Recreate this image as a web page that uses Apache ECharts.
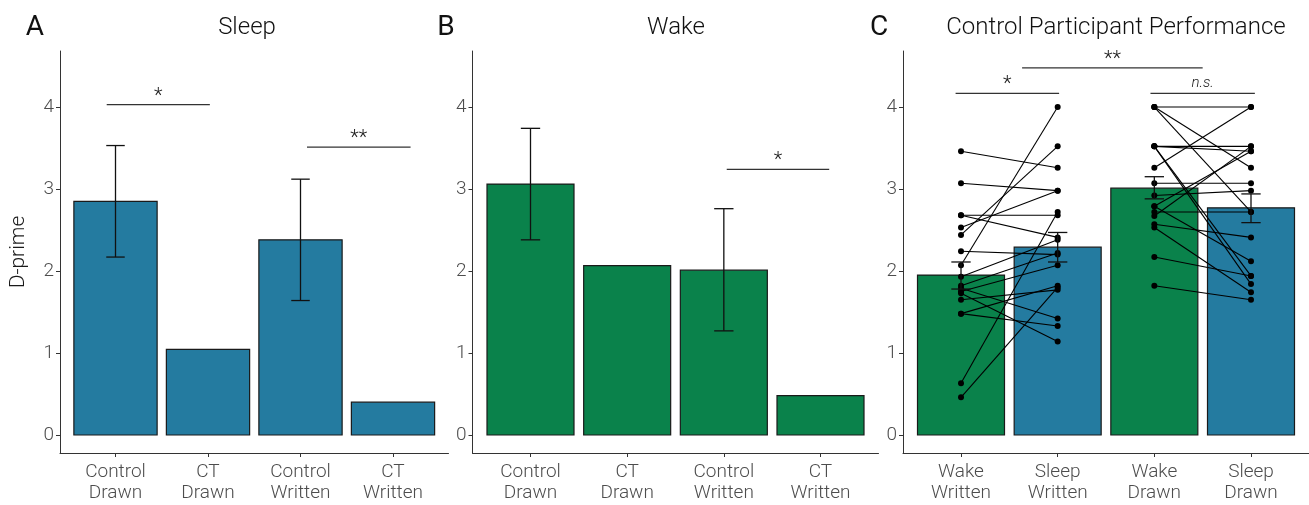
<!DOCTYPE html>
<html lang="en">
<head>
    <meta charset="utf-8">
    <title>D-prime</title>
    <script src="https://cdn.jsdelivr.net/npm/echarts@6/dist/echarts.min.js"></script>
    <style>
        html, body { margin: 0; padding: 0; background: #fff; }
        #main { width: 1309px; height: 505px; }
    </style>
</head>
<body>
<div id="main"></div>
<script type="application/javascript">
    // categories
    var catsAB = ['Control\nDrawn', 'CT\nDrawn', 'Control\nWritten', 'CT\nWritten'];
    var catsC = ['Wake\nWritten', 'Sleep\nWritten', 'Wake\nDrawn', 'Sleep\nDrawn'];

    // A: sleep group
    var sleepMean = [2.85, 1.045, 2.38, 0.40];
    var sleepLow = [2.17, null, 1.64, null];
    var sleepHigh = [3.53, null, 3.12, null];

    // B: wake group
    var wakeMean = [3.06, 2.065, 2.01, 0.48];
    var wakeLow = [2.38, null, 1.27, null];
    var wakeHigh = [3.74, null, 2.76, null];

    // C: control participants
    var ctrlMean = [1.95, 2.29, 3.01, 2.77];
    var ctrlLow = [1.78, 2.11, 2.88, 2.59];
    var ctrlHigh = [2.11, 2.47, 3.15, 2.94];

    // paired scores per participant
    var wakeWritten = [3.46, 3.07, 2.68, 2.68, 2.53, 2.44, 2.24, 2.07, 1.93, 1.82, 1.79, 1.75, 1.73, 1.65, 1.48, 1.48, 0.63, 0.46];
    var sleepWritten = [3.26, 2.98, 2.68, 2.41, 2.98, 3.52, 2.20, 4.00, 2.38, 2.22, 1.42, 2.07, 1.14, 1.77, 1.82, 1.33, 2.72, 1.80];
    var wakeDrawn = [4.00, 4.00, 4.00, 3.52, 3.52, 3.52, 3.52, 3.26, 3.07, 2.92, 2.79, 2.79, 2.72, 2.67, 2.57, 2.53, 2.17, 1.82];
    var sleepDrawn = [4.00, 3.26, 2.72, 3.52, 3.46, 1.94, 1.84, 4.00, 3.07, 2.98, 3.46, 2.12, 2.72, 3.52, 2.41, 1.74, 1.94, 1.65];

    // significance brackets: [from, to, height], labels
    var sigA = [[0.905, 2.02, 4.03], [3.07, 4.19, 3.51]];
    var sigALabels = ['*', '**'];
    var sigB = [[3.03, 4.09, 3.24]];
    var sigBLabels = ['*'];
    var sigC = [[0.944, 2.015, 4.167], [1.632, 3.50, 4.476], [2.96, 4.04, 4.167]];
    var sigCLabels = ['*', '**', 'n.s.'];

    var yTicks = [0, 1, 2, 3, 4];
    var BLUE = '#247ba0';
    var GREEN = '#0a824b';
    var FONT = 'Roboto';

    var chart = echarts.init(document.getElementById('main'));

    function makeX(idx, names) {
        return {
            type: 'value', gridIndex: idx, min: 0.4, max: 4.6,
            splitLine: {show: false},
            axisLine: {onZero: false, lineStyle: {color: '#333', width: 1}},
            axisTick: {customValues: [1, 2, 3, 4], length: 4, lineStyle: {color: '#333'}},
            axisLabel: {
                customValues: [1, 2, 3, 4], margin: 9,
                color: '#4d4d4d', fontSize: 19, lineHeight: 21, fontFamily: FONT, fontWeight: 300,
                formatter: function (v) { return names[Math.round(v) - 1]; }
            }
        };
    }

    function makeY(idx, name) {
        return {
            type: 'value', gridIndex: idx, min: -0.2195, max: 4.683,
            name: name || '', nameLocation: 'middle', nameGap: 31,
            nameTextStyle: {color: '#1a1a1a', fontSize: 21, fontFamily: FONT, fontWeight: 300},
            splitLine: {show: false},
            axisLine: {show: true, onZero: false, lineStyle: {color: '#333', width: 1}},
            axisTick: {show: true, customValues: yTicks, length: 4, lineStyle: {color: '#333'}},
            axisLabel: {
                customValues: yTicks, margin: 6,
                color: '#4d4d4d', fontSize: 19, fontFamily: FONT, fontWeight: 300
            }
        };
    }

    function barSeries(idx, means, colors) {
        return {
            type: 'custom', xAxisIndex: idx, yAxisIndex: idx, z: 1,
            data: means.map(function (m, i) { return [i + 1, m]; }),
            renderItem: function (params, api) {
                var x = api.value(0), y = api.value(1);
                var p0 = api.coord([x - 0.45, y]);
                var p1 = api.coord([x + 0.45, 0]);
                return {
                    type: 'rect',
                    shape: {x: p0[0], y: p0[1], width: p1[0] - p0[0], height: p1[1] - p0[1]},
                    style: {fill: colors[params.dataIndex % colors.length], stroke: '#1a1a1a', lineWidth: 1.2}
                };
            }
        };
    }

    function errSeries(idx, low, high) {
        var d = [];
        low.forEach(function (lo, i) {
            if (lo !== null) d.push([i + 1, lo, high[i]]);
        });
        return {
            type: 'custom', xAxisIndex: idx, yAxisIndex: idx, z: 5,
            data: d,
            renderItem: function (params, api) {
                var x = api.value(0);
                var a = api.coord([x, api.value(1)]);
                var b = api.coord([x, api.value(2)]);
                var la = api.coord([x - 0.1, api.value(1)]);
                var ra = api.coord([x + 0.1, api.value(1)]);
                var lb = api.coord([x - 0.1, api.value(2)]);
                var rb = api.coord([x + 0.1, api.value(2)]);
                var st = {stroke: '#111', lineWidth: 1.3};
                return {
                    type: 'group', children: [
                        {type: 'line', shape: {x1: a[0], y1: a[1], x2: b[0], y2: b[1]}, style: st},
                        {type: 'line', shape: {x1: la[0], y1: la[1], x2: ra[0], y2: ra[1]}, style: st},
                        {type: 'line', shape: {x1: lb[0], y1: lb[1], x2: rb[0], y2: rb[1]}, style: st}
                    ]
                };
            }
        };
    }

    function pairSeries(idx, x1, ys1, x2, ys2) {
        return {
            type: 'custom', xAxisIndex: idx, yAxisIndex: idx, z: 3,
            data: ys1.map(function (v, i) { return [x1, v, x2, ys2[i]]; }),
            renderItem: function (params, api) {
                var a = api.coord([api.value(0), api.value(1)]);
                var b = api.coord([api.value(2), api.value(3)]);
                return {
                    type: 'group', children: [
                        {type: 'line', shape: {x1: a[0], y1: a[1], x2: b[0], y2: b[1]}, style: {stroke: '#000', lineWidth: 1.1}},
                        {type: 'circle', shape: {cx: a[0], cy: a[1], r: 3}, style: {fill: '#000'}},
                        {type: 'circle', shape: {cx: b[0], cy: b[1], r: 3}, style: {fill: '#000'}}
                    ]
                };
            }
        };
    }

    function sigSeries(idx, brackets, labels) {
        return {
            type: 'custom', xAxisIndex: idx, yAxisIndex: idx, z: 6,
            data: brackets,
            renderItem: function (params, api) {
                var a = api.coord([api.value(0), api.value(2)]);
                var b = api.coord([api.value(1), api.value(2)]);
                var lab = labels[params.dataIndex];
                var isNs = lab === 'n.s.';
                return {
                    type: 'group', children: [
                        {type: 'line', shape: {x1: a[0], y1: a[1], x2: b[0], y2: b[1]}, style: {stroke: '#333', lineWidth: 1.2}},
                        {
                            type: 'text', x: (a[0] + b[0]) / 2, y: a[1] - (isNs ? 3 : -2),
                            style: {
                                text: lab, align: 'center', verticalAlign: 'bottom',
                                fill: '#1a1a1a', fontSize: isNs ? 15 : 20, fontFamily: FONT,
                                fontStyle: isNs ? 'italic' : 'normal', fontWeight: 300
                            }
                        }
                    ]
                };
            }
        };
    }

    function headText(txt, x, size) {
        return {
            type: 'text', x: x, y: 28,
            style: {
                text: txt, align: 'center', verticalAlign: 'middle',
                fill: '#111', fontSize: size, fontFamily: FONT, fontWeight: size > 25 ? 400 : 300
            }
        };
    }

    var option = {
        animation: false,
        backgroundColor: '#fff',
        grid: [
            {left: 60, top: 51, width: 388.5, height: 402},
            {left: 472.5, top: 51, width: 406, height: 402},
            {left: 903, top: 51, width: 406, height: 402}
        ],
        xAxis: [makeX(0, catsAB), makeX(1, catsAB), makeX(2, catsC)],
        yAxis: [makeY(0, 'D-prime'), makeY(1), makeY(2)],
        graphic: [
            headText('A', 35, 28), headText('Sleep', 247, 24),
            headText('B', 446, 28), headText('Wake', 676, 24),
            headText('C', 879, 28), headText('Control Participant Performance', 1116, 24)
        ],
        series: [
            barSeries(0, sleepMean, [BLUE]),
            errSeries(0, sleepLow, sleepHigh),
            sigSeries(0, sigA, sigALabels),
            barSeries(1, wakeMean, [GREEN]),
            errSeries(1, wakeLow, wakeHigh),
            sigSeries(1, sigB, sigBLabels),
            barSeries(2, ctrlMean, [GREEN, BLUE]),
            pairSeries(2, 1, wakeWritten, 2, sleepWritten),
            pairSeries(2, 3, wakeDrawn, 4, sleepDrawn),
            errSeries(2, ctrlLow, ctrlHigh),
            sigSeries(2, sigC, sigCLabels)
        ]
    };

    chart.setOption(option);
</script>
</body>
</html>
